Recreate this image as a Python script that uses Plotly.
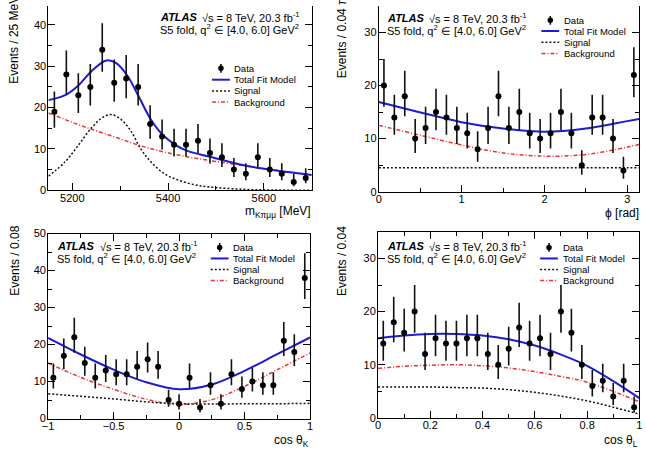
import numpy as np
import plotly.graph_objects as go

W, H = 646, 455
FONT = "Liberation Sans"

# ---------------- data ----------------
# Panel 1: m_Kpimumu
m_lo, m_hi, m_nbins = 5150, 5700, 22
m_counts = [19, 28, 23, 25, 34, 26, 27, 25, 16, 13, 11, 11, 12, 9, 8, 5, 4, 8, 5, 4, 2, 3]
m_total_x = [5150, 5185, 5212, 5240, 5271, 5291, 5315, 5339, 5364, 5387, 5415, 5439, 5487, 5556, 5600, 5650, 5700]
m_total = [21.8, 23.0, 25.3, 28.8, 31.4, 30.8, 27.7, 22.6, 17.1, 13.6, 11.0, 9.6, 8.1, 6.1, 5.2, 4.4, 3.7]
m_sig_x = [5150, 5185, 5212, 5240, 5262, 5281, 5302, 5322, 5343, 5364, 5391, 5418, 5453, 5487, 5556, 5620, 5700]
m_signal = [3.4, 6.9, 10.8, 15.1, 17.5, 18.3, 17.1, 14.4, 10.0, 6.9, 4.1, 2.6, 1.4, 0.8, 0.25, 0.08, 0.0]
m_bkg_x = [5150, 5212, 5281, 5350, 5418, 5487, 5556, 5630, 5700]
m_bkg = [18.7, 15.9, 13.2, 10.5, 8.6, 7.2, 6.0, 4.8, 3.7]

# Panel 2: phi
p_lo, p_hi, p_nbins = 0.0, np.pi, 25
p_counts = [20, 14, 18, 10, 12, 15, 14, 12, 11, 8, 12, 18, 12, 15, 11, 10, 11, 15, 11, 5, 14, 14, 10, 4, 22]
p_curve_x = [0.0, 0.54, 1.0, 1.5, 2.0, 2.5, 3.0, 3.1416]
p_total = [16.9, 14.8, 13.1, 11.9, 11.3, 11.9, 13.3, 13.7]
p_bkg = [12.5, 10.5, 8.8, 7.3, 6.7, 7.0, 8.4, 8.9]
p_signal = [4.5, 4.5, 4.5, 4.5, 4.5, 4.5, 4.5, 4.5]

# Panel 3: cos theta_K
k_lo, k_hi, k_nbins = -1.0, 1.0, 25
k_counts = [11, 17, 22, 15, 11, 13, 12, 12, 14, 16, 14, 5, 4, 11, 3, 9, 4, 12, 8, 10, 9, 9, 21, 18, 38]
k_curve_x = [-1.0, -0.75, -0.5, -0.25, 0.0, 0.25, 0.5, 0.75, 1.0]
k_total = [21.8, 17.3, 13.2, 9.8, 7.9, 9.2, 12.9, 17.4, 21.9]
k_bkg = [15.0, 11.1, 7.9, 5.2, 3.8, 5.1, 8.7, 13.2, 17.7]
k_signal = [6.7, 6.0, 5.3, 4.5, 4.0, 3.9, 4.0, 4.0, 4.1]

# Panel 4: cos theta_L
l_lo, l_hi, l_nbins = 0.0, 1.0, 25
l_counts = [14, 18, 16, 20, 12, 15, 14, 14, 15, 15, 12, 10, 13, 17, 14, 15, 12, 20, 16, 10, 6, 7, 4, 7, 2]
l_curve_x = [0.0, 0.1, 0.2, 0.3, 0.4, 0.5, 0.6, 0.7, 0.8, 0.9, 1.0]
l_total = [15.0, 15.5, 15.8, 15.8, 15.5, 14.8, 13.6, 11.9, 9.8, 6.9, 3.7]
l_bkg = [9.3, 9.7, 9.9, 10.0, 9.8, 9.4, 8.7, 7.8, 6.7, 5.0, 3.0]
l_signal = [5.8, 5.8, 5.8, 5.7, 5.6, 5.3, 4.8, 4.1, 3.2, 2.0, 0.7]

# ---------------- styling ----------------
BLUE = "#1c1cd0"
RED = "#f03030"

def centres(lo, hi, n):
    edges = np.linspace(lo, hi, n + 1)
    return 0.5 * (edges[:-1] + edges[1:])

def poisson_err(counts):
    c = np.asarray(counts, float)
    s = np.sqrt(c + 0.25)
    return s + 0.5, s - 0.5

fig = go.Figure()

panels = [
    dict(n=1, x=centres(m_lo, m_hi, m_nbins), c=m_counts,
         tot=(m_total_x, m_total), sig=(m_sig_x, m_signal), bkg=(m_bkg_x, m_bkg)),
    dict(n=2, x=centres(p_lo, p_hi, p_nbins), c=p_counts,
         tot=(p_curve_x, p_total), sig=(p_curve_x, p_signal), bkg=(p_curve_x, p_bkg)),
    dict(n=3, x=centres(k_lo, k_hi, k_nbins), c=k_counts,
         tot=(k_curve_x, k_total), sig=(k_curve_x, k_signal), bkg=(k_curve_x, k_bkg)),
    dict(n=4, x=centres(l_lo, l_hi, l_nbins), c=l_counts,
         tot=(l_curve_x, l_total), sig=(l_curve_x, l_signal), bkg=(l_curve_x, l_bkg)),
]

for p in panels:
    ax = "" if p["n"] == 1 else str(p["n"])
    xa, ya = "x" + ax, "y" + ax
    up, dn = poisson_err(p["c"])
    fig.add_trace(go.Scatter(x=p["bkg"][0], y=p["bkg"][1], mode="lines", xaxis=xa, yaxis=ya,
                             line=dict(color=RED, width=1.5, dash="4px,2px,1px,2px", shape="spline"),
                             showlegend=False, hoverinfo="skip"))
    fig.add_trace(go.Scatter(x=p["sig"][0], y=p["sig"][1], mode="lines", xaxis=xa, yaxis=ya,
                             line=dict(color="#111111", width=1.5, dash="2px,2px", shape="spline"),
                             showlegend=False, hoverinfo="skip"))
    fig.add_trace(go.Scatter(x=p["tot"][0], y=p["tot"][1], mode="lines", xaxis=xa, yaxis=ya,
                             line=dict(color=BLUE, width=2, shape="spline"),
                             showlegend=False, hoverinfo="skip"))
    fig.add_trace(go.Scatter(x=p["x"], y=p["c"], mode="markers", xaxis=xa, yaxis=ya,
                             marker=dict(color="black", size=6),
                             error_y=dict(type="data", symmetric=False, array=up, arrayminus=dn,
                                          width=0, thickness=1.6, color="#111111"),
                             showlegend=False))

def px2x(px):
    return px / W

def py2y(py):
    return 1 - py / H

base = dict(showline=True, linecolor="black", linewidth=1, ticks="inside", ticklen=7,
            tickwidth=1, tickcolor="black", showgrid=False, zeroline=False,
            tickfont=dict(family=FONT, size=11, color="black"))

def mk_axis(domain, rng, dtick, mdtick, anchor, mirror, standoff):
    d = dict(base)
    d.update(domain=domain, range=rng, dtick=dtick, anchor=anchor, mirror=mirror,
             ticklabelstandoff=standoff,
             minor=dict(ticks="inside", ticklen=4, tickcolor="black", tickwidth=1, dtick=mdtick,
                        showgrid=False))
    return d

layout_axes = dict(
    xaxis=mk_axis([px2x(43), px2x(310)], [m_lo, m_hi], 200, 100, "y", False, -3),
    yaxis=mk_axis([py2y(189.3), 1], [0, 44.55], 10, 5, "x", "ticks", -1),
    xaxis2=mk_axis([px2x(378), px2x(642)], [p_lo, p_hi], 1, 0.5, "y2", False, -3),
    yaxis2=mk_axis([py2y(190.7), 1], [0, 35], 10, 5, "x2", "ticks", -1),
    xaxis3=mk_axis([px2x(42.7), px2x(308.3)], [k_lo, k_hi], 0.5, 0.25, "y3", "ticks", -3),
    yaxis3=mk_axis([py2y(423.7), py2y(233.7)], [0, 50], 10, 5, "x3", "ticks", -1),
    xaxis4=mk_axis([px2x(377.3), px2x(642.3)], [l_lo, l_hi], 0.2, 0.1, "y4", "ticks", -3),
    yaxis4=mk_axis([py2y(423), py2y(232)], [0, 35], 10, 5, "x4", "ticks", -1),
)

annotations = []
shapes = []

def text(px, py, s, size=11, xanchor="left", yanchor="middle", angle=0):
    annotations.append(dict(x=px2x(px), y=py2y(py), xref="paper", yref="paper", text=s,
                            showarrow=False, xanchor=xanchor, yanchor=yanchor, textangle=angle,
                            font=dict(family=FONT, size=size, color="black"), borderpad=0))

# ATLAS labels
for (tx, ty1, ty2) in [(155, 11.7, 24.0), (385, 12.7, 25.0), (51, 246.3, 258.7), (385, 246.3, 258.7)]:
    text(tx, ty1, "<b><i>ATLAS</i></b>")
    text(tx + 43, ty1, "√s = 8 TeV, 20.3 fb<sup>-1</sup>")
    text(tx, ty2, "S5 fold, q<sup>2</sup> ∈ [4.0, 6.0] GeV<sup>2</sup>")

# Legends
legend_names = ["Data", "Total Fit Model", "Signal", "Background"]
for (mx, rows, tx) in [(218, [64, 75.7, 87.3, 98.7], 230),
                       (552, [14.7, 25.7, 37.3, 48.7], 565),
                       (216.7, [248, 259.3, 270.7, 282], 229),
                       (550.7, [248, 259.3, 270.7, 282], 563.7)]:
    shapes.append(dict(type="line", xref="paper", yref="paper", x0=px2x(mx), x1=px2x(mx),
                       y0=py2y(rows[0] - 4.5), y1=py2y(rows[0] + 4.5), line=dict(color="black", width=1.5)))
    shapes.append(dict(type="circle", xref="paper", yref="paper", x0=px2x(mx - 2.8), x1=px2x(mx + 2.8),
                       y0=py2y(rows[0] - 2.8), y1=py2y(rows[0] + 2.8), fillcolor="black",
                       line=dict(color="black", width=0)))
    shapes.append(dict(type="line", xref="paper", yref="paper", x0=px2x(mx - 9), x1=px2x(mx + 9),
                       y0=py2y(rows[1]), y1=py2y(rows[1]), line=dict(color=BLUE, width=2)))
    shapes.append(dict(type="line", xref="paper", yref="paper", x0=px2x(mx - 9), x1=px2x(mx + 9),
                       y0=py2y(rows[2]), y1=py2y(rows[2]), line=dict(color="#111111", width=1.5, dash="2px,2px")))
    shapes.append(dict(type="line", xref="paper", yref="paper", x0=px2x(mx - 9), x1=px2x(mx + 9),
                       y0=py2y(rows[3]), y1=py2y(rows[3]),
                       line=dict(color=RED, width=1.5, dash="4px,2px,1px,2px")))
    for name, ry in zip(legend_names, rows):
        text(tx, ry, name, size=9.5)

# Axis titles
text(310, 212, "m<sub>Kπμμ</sub> [MeV]", size=12, xanchor="right")
text(643, 213, "ϕ [rad]", size=12, xanchor="right")
text(308, 447, "cos θ<sub>K</sub>", size=12, xanchor="right")
text(642, 447, "cos θ<sub>L</sub>", size=12, xanchor="right")
text(8, 81, "Events / 25 MeV", size=12, xanchor="center", yanchor="bottom", angle=-90)
text(341, 75, "Events / 0.04 π", size=12, xanchor="center", yanchor="bottom", angle=-90)
text(9, 298.7, "Events / 0.08", size=12, xanchor="center", yanchor="bottom", angle=-90)
text(341, 298.7, "Events / 0.04", size=12, xanchor="center", yanchor="bottom", angle=-90)

fig.update_layout(
    width=W, height=H,
    margin=dict(l=0, r=0, t=0, b=0),
    paper_bgcolor="white", plot_bgcolor="white",
    showlegend=False,
    annotations=annotations, shapes=shapes,
    font=dict(family=FONT, size=11, color="black"),
    **layout_axes,
)

fig.write_html("out.html")
